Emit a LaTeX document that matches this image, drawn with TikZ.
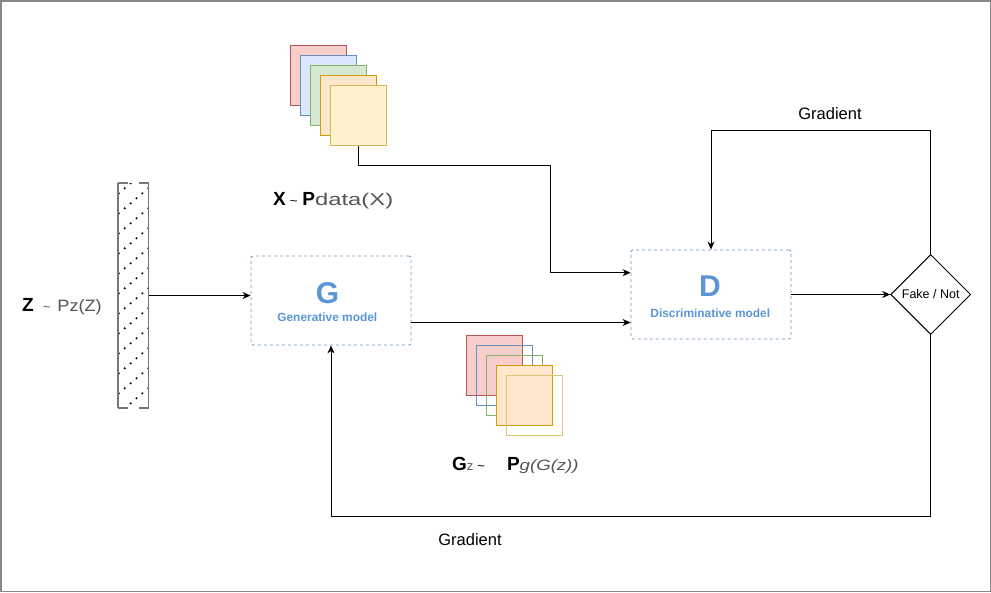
\documentclass[tikz,border=0pt]{standalone}
\usepackage{graphicx}
\usepackage{fontspec}
\setmainfont{Liberation Sans}
\usetikzlibrary{arrows.meta,shapes.geometric}
\definecolor{redF}{HTML}{F8CECC}\definecolor{redS}{HTML}{B85450}
\definecolor{blueF}{HTML}{DAE8FC}\definecolor{blueS}{HTML}{6C8EBF}
\definecolor{greenF}{HTML}{D5E8D4}\definecolor{greenS}{HTML}{82B366}
\definecolor{orangeF}{HTML}{FFE6CC}\definecolor{orangeS}{HTML}{D79B00}
\definecolor{yellowF}{HTML}{FFF2CC}\definecolor{yellowS}{HTML}{D6B656}
\definecolor{modelblue}{RGB}{90,150,215}
\definecolor{boxblue}{RGB}{108,150,196}
\definecolor{txtgray}{RGB}{85,85,85}
\definecolor{framegray}{RGB}{136,136,136}
\definecolor{bargray}{RGB}{119,119,119}
\begin{document}
\begin{tikzpicture}[x=1pt,y=-1pt,
  conn/.style={line width=1pt,-{Stealth[length=8pt,width=7pt,inset=2.5pt]}},
  model/.style={draw=boxblue,dash pattern=on 3pt off 3pt,rounded corners=2pt,line width=0.8pt,minimum width=160pt,minimum height=89pt,inner sep=0pt},
  sheet/.style={minimum width=56pt,minimum height=60pt,inner sep=0pt,line width=1pt,anchor=north west},
  modeltitle/.style={anchor=base,inner sep=0pt,text=modelblue,font=\bfseries\fontsize{30}{30}\selectfont},
  modelsub/.style={anchor=base,inner sep=0pt,text=modelblue,font=\bfseries\fontsize{11.9}{11.9}\selectfont},
  gradlabel/.style={anchor=base,inner sep=0pt,font=\fontsize{16.5}{16.5}\selectfont},
  lbl/.style={anchor=base west,inner sep=0pt}]
\useasboundingbox (0,0) rectangle (991,592);
\draw[framegray,line width=1.5pt] (0.75,0.75) rectangle (990.25,591.25);

% latent vector bar
\node[minimum width=30pt,minimum height=224.4pt,inner sep=0pt] (zbar) at (133.3,295.5) {};
\begin{scope}
  \clip (zbar.south west) rectangle (zbar.north east);
  \foreach \c in {0,...,12}{
    \foreach \i in {0,...,5}{
      \fill (118.8+5.9*\i,193.3+20*\c-5*\i) circle (1.15pt);
    }
  }
\end{scope}
\draw[bargray,line width=1.5pt] (zbar.north west) -- (zbar.south west);
\draw[bargray,line width=1.5pt] (zbar.north east) -- (zbar.south east);
\draw[bargray,line width=1.5pt] (zbar.north west) -- ++(10,0);
\draw[bargray,line width=1.5pt] (zbar.north east) -- ++(-10,0);
\draw[bargray,line width=1.5pt] (zbar.south west) -- ++(10,0);
\draw[bargray,line width=1.5pt] (zbar.south east) -- ++(-10,0);

\node[lbl] (zlabel) at (22,311.5) {{\bfseries\fontsize{19}{19}\selectfont Z}\hspace{9pt}{\color{txtgray}\fontsize{13}{13}\selectfont\textasciitilde}\hspace{7pt}{\color{txtgray}\fontsize{16.5}{16.5}\selectfont\scalebox{1.1}[1]{Pz(Z)}}};

% real data stack
\node[sheet,fill=redF,draw=redS] (x1) at (290,45) {};
\node[sheet,fill=blueF,draw=blueS] (x2) at (300,55) {};
\node[sheet,fill=greenF,draw=greenS] (x3) at (310,65) {};
\node[sheet,fill=orangeF,draw=orangeS] (x4) at (320,75) {};
\node[sheet,fill=yellowF,draw=yellowS] (x5) at (330,85) {};
\node[lbl] (xlabel) at (273,205) {{\bfseries\fontsize{19}{19}\selectfont X}\hspace{4pt}{\fontsize{13}{13}\selectfont\textasciitilde}\hspace{5pt}{\bfseries\fontsize{19}{19}\selectfont P}{\color{txtgray}\fontsize{17}{17}\selectfont\scalebox{1.4}[1]{data(X)}}};

% generated stack
\node[sheet,fill=redF,draw=redS] (g1) at (466,335) {};
\node[sheet,draw=blueS] (g2) at (476,345) {};
\node[sheet,draw=greenS] (g3) at (486,355) {};
\node[sheet,fill=orangeF,draw=orangeS] (g4) at (496,365) {};
\node[sheet,draw=yellowS!80] (g5) at (506,375) {};
\node[lbl] (glabel) at (452,470) {{\bfseries\fontsize{19}{19}\selectfont G}{\color{txtgray}\fontsize{13}{13}\selectfont z}\hspace{4pt}{\fontsize{13}{13}\selectfont\textasciitilde}\hspace{22pt}{\bfseries\fontsize{19}{19}\selectfont P}{\color{txtgray}\fontsize{15}{15}\selectfont\itshape\scalebox{1.24}[1]{g(G(z))}}};

% models
\node[model] (G) at (331,300.5) {};
\node[modeltitle] (Gt) at (327.5,303.3) {G};
\node[modelsub] (Gs) at (327.3,321.7) {Generative model};
\node[model] (D) at (711,294.5) {};
\node[modeltitle] (Dt) at (710,296.7) {D};
\node[modelsub] (Ds) at (710.3,317.3) {Discriminative model};

\node[draw,diamond,minimum width=80pt,minimum height=80pt,inner sep=0pt,line width=1pt,font=\fontsize{12.5}{12.5}\selectfont] (F) at (930.7,294.5) {Fake / Not};

% connectors
\draw[conn] (zbar.east) -- (zbar.east -| G.west);
\draw[conn] (G.east |- 0,322.5) -- (D.west |- 0,322.5);
\coordinate (xb1) at (550,165);
\coordinate (xb2) at (550,272.7);
\draw[conn] (x5.south) -- (x5.south |- xb1) -- (xb1) -- (xb2) -- (D.west |- xb2);
\draw[conn] (D.east) -- (F.west);
\coordinate (gt) at (0,130.7);
\draw[conn] (F.north) -- (F.north |- gt) -- (D.north |- gt) -- (D.north);
\coordinate (gb) at (0,516);
\draw[conn] (F.south) -- (F.south |- gb) -- (G.south |- gb) -- (G.south);

\node[gradlabel] (grad1) at (830,119.3) {Gradient};
\node[gradlabel] (grad2) at (470,545) {Gradient};
\end{tikzpicture}
\end{document}
